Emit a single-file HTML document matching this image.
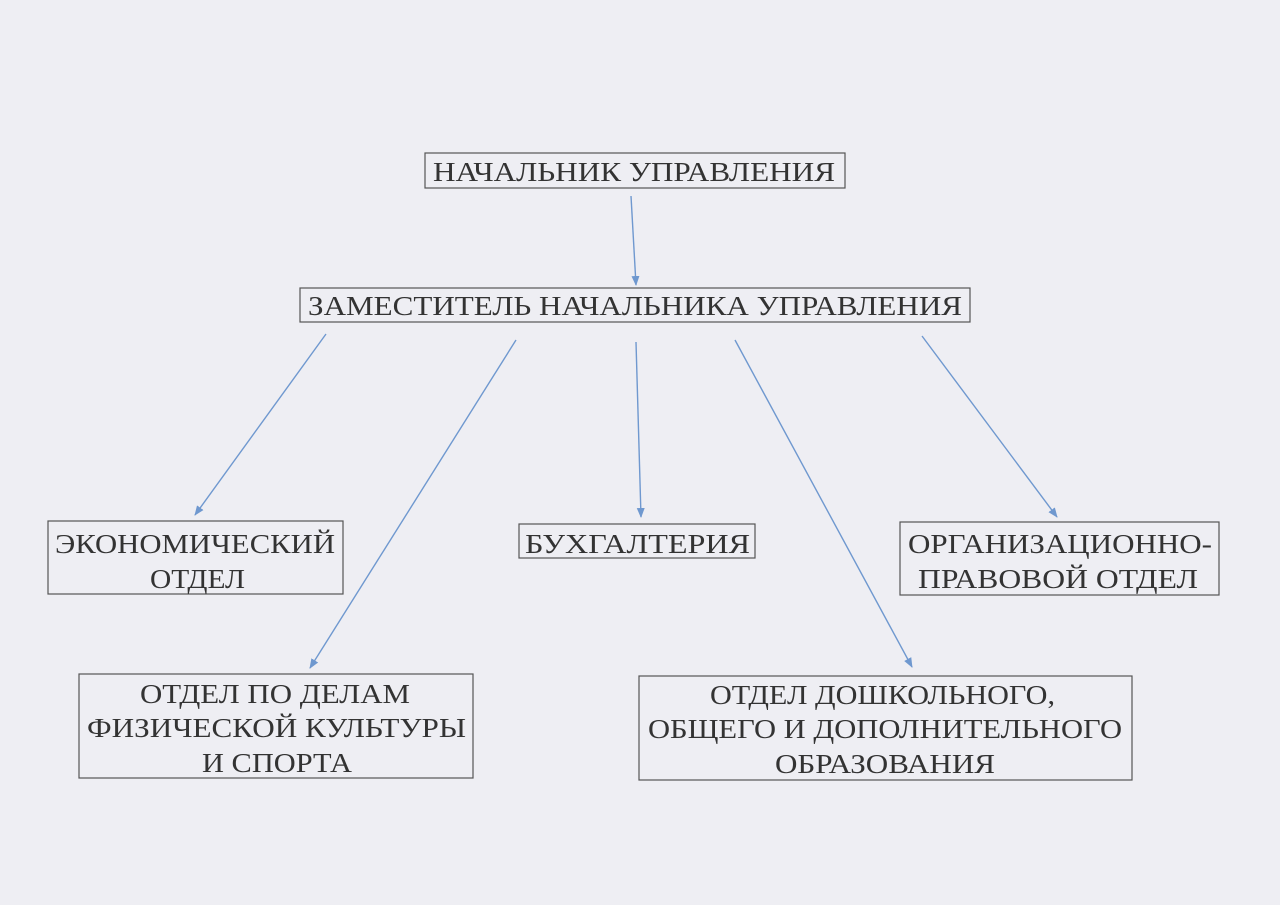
<!DOCTYPE html>
<html><head><meta charset="utf-8"><style>
html,body{margin:0;padding:0;background:#eeeef3;}
svg{display:block}
text{font-family:"Liberation Serif",serif;font-size:27px;fill:#333;}
rect{fill:none;stroke:#555;stroke-width:1.2}
line{stroke:#6f98cf;stroke-width:1.4}
</style></head><body>
<svg width="1280" height="905" viewBox="0 0 1280 905">
<defs><marker id="a" markerWidth="10" markerHeight="10" refX="9" refY="5" orient="auto" markerUnits="userSpaceOnUse"><path d="M0,1 L10,5 L0,9 z" fill="#6f98cf"/></marker></defs>
<rect x="425" y="153" width="420" height="35"/>
<rect x="300" y="288" width="670" height="34"/>
<rect x="48" y="521" width="295" height="73"/>
<rect x="519" y="524" width="236" height="34"/>
<rect x="900" y="522" width="319" height="73"/>
<rect x="79" y="674" width="394" height="104"/>
<rect x="639" y="676" width="493" height="104"/>
<text x="433" y="181" textLength="402" lengthAdjust="spacingAndGlyphs">НАЧАЛЬНИК УПРАВЛЕНИЯ</text>
<text x="308" y="315" textLength="654" lengthAdjust="spacingAndGlyphs">ЗАМЕСТИТЕЛЬ НАЧАЛЬНИКА УПРАВЛЕНИЯ</text>
<text x="55" y="553" textLength="280" lengthAdjust="spacingAndGlyphs">ЭКОНОМИЧЕСКИЙ</text>
<text x="150" y="588" textLength="95" lengthAdjust="spacingAndGlyphs">ОТДЕЛ</text>
<text x="525" y="553" textLength="225" lengthAdjust="spacingAndGlyphs">БУХГАЛТЕРИЯ</text>
<text x="908" y="553" textLength="304" lengthAdjust="spacingAndGlyphs">ОРГАНИЗАЦИОННО-</text>
<text x="918" y="588" textLength="280" lengthAdjust="spacingAndGlyphs">ПРАВОВОЙ ОТДЕЛ</text>
<text x="140" y="703" textLength="270" lengthAdjust="spacingAndGlyphs">ОТДЕЛ ПО ДЕЛАМ</text>
<text x="87" y="737" textLength="379" lengthAdjust="spacingAndGlyphs">ФИЗИЧЕСКОЙ КУЛЬТУРЫ</text>
<text x="202" y="772" textLength="150" lengthAdjust="spacingAndGlyphs">И СПОРТА</text>
<text x="710" y="704" textLength="345" lengthAdjust="spacingAndGlyphs">ОТДЕЛ ДОШКОЛЬНОГО,</text>
<text x="648" y="738" textLength="474" lengthAdjust="spacingAndGlyphs">ОБЩЕГО И ДОПОЛНИТЕЛЬНОГО</text>
<text x="775" y="773" textLength="220" lengthAdjust="spacingAndGlyphs">ОБРАЗОВАНИЯ</text>
<line x1="631" y1="196" x2="636" y2="285" marker-end="url(#a)"/>
<line x1="326" y1="334" x2="195" y2="515" marker-end="url(#a)"/>
<line x1="516" y1="340" x2="310" y2="668" marker-end="url(#a)"/>
<line x1="636" y1="342" x2="641" y2="517" marker-end="url(#a)"/>
<line x1="735" y1="340" x2="912" y2="667" marker-end="url(#a)"/>
<line x1="922" y1="336" x2="1057" y2="517" marker-end="url(#a)"/>
</svg>
</body></html>
